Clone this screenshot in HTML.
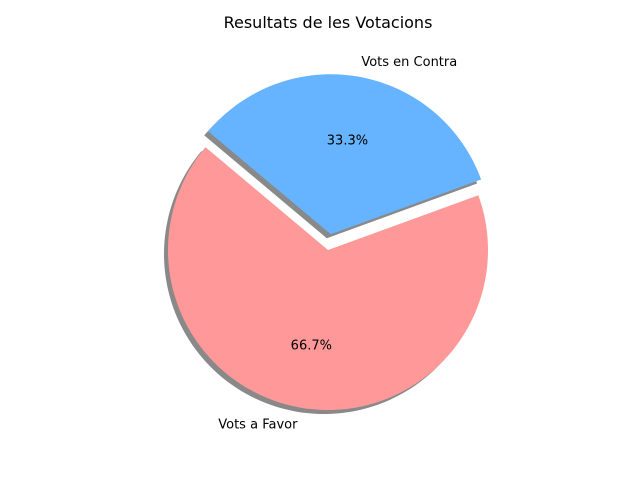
<!DOCTYPE html>
<html><head><meta charset="utf-8"><style>
body{margin:0;background:#fff;}
svg{display:block;font-family:"DejaVu Sans","Liberation Sans",sans-serif;}
</style></head><body>
<svg id="chart" width="640" height="480">
<rect width="640" height="480" fill="#fff"/>
<text x="328" y="28" text-anchor="middle" font-size="16" fill="#000">Resultats de les Votacions</text>
<g id="shadows"></g><g id="slices"></g><g id="labels"></g>
</svg>
<script>
const categories = ["Vots a Favor", "Vots en Contra"];
const values = [2, 1];
const colors = ["#ff9999", "#66b3ff"];
const explode = [0, 0.1];
const startAngle = 140;

const cx = 328, cy = 250, R = 160;
const NS = "http://www.w3.org/2000/svg";
const total = values.reduce((a,b)=>a+b,0);
const sh = document.getElementById('shadows'), sl = document.getElementById('slices'), lb = document.getElementById('labels');
function pt(x0,y0,r,deg){const a=deg*Math.PI/180;return [x0+r*Math.cos(a), y0-r*Math.sin(a)];}
function wedge(x0,y0,a1,a2){
  const p1=pt(x0,y0,R,a1), p2=pt(x0,y0,R,a2);
  const large=(a2-a1)>180?1:0;
  return `M${x0},${y0} L${p1[0]},${p1[1]} A${R},${R} 0 ${large} 0 ${p2[0]},${p2[1]} Z`;
}
let a = startAngle;
values.forEach((v,i)=>{
  const span = v/total*360, a1=a, a2=a+span, mid=(a1+a2)/2;
  const off = pt(0,0,explode[i]*R,mid);
  const x0=cx+off[0], y0=cy+off[1];
  const s=document.createElementNS(NS,'path');
  s.setAttribute('d',wedge(x0-4,y0+4,a1,a2));
  s.setAttribute('fill','#3a3a3a');s.setAttribute('fill-opacity','0.6');
  
  
  sh.appendChild(s);
  const p=document.createElementNS(NS,'path');
  p.setAttribute('d',wedge(x0,y0,a1,a2));
  p.setAttribute('fill',colors[i]);
  
  
  sl.appendChild(p);
  const lp=pt(x0,y0,R*1.1,mid);
  const t=document.createElementNS(NS,'text');
  t.setAttribute('x',lp[0]);t.setAttribute('y',lp[1]+5);t.setAttribute('font-size','13');
  t.setAttribute('text-anchor',Math.cos(mid*Math.PI/180)<0?'end':'start');
  t.textContent=categories[i];
  
  
  lb.appendChild(t);
  const pp=pt(x0,y0,R*0.6,mid);
  const q=document.createElementNS(NS,'text');
  q.setAttribute('x',pp[0]);q.setAttribute('y',pp[1]+5);q.setAttribute('font-size','13');
  q.setAttribute('text-anchor','middle');
  q.textContent=(v/total*100).toFixed(1)+'%';
  
  
  lb.appendChild(q);
  a=a2;
});
</script>
</body></html>
